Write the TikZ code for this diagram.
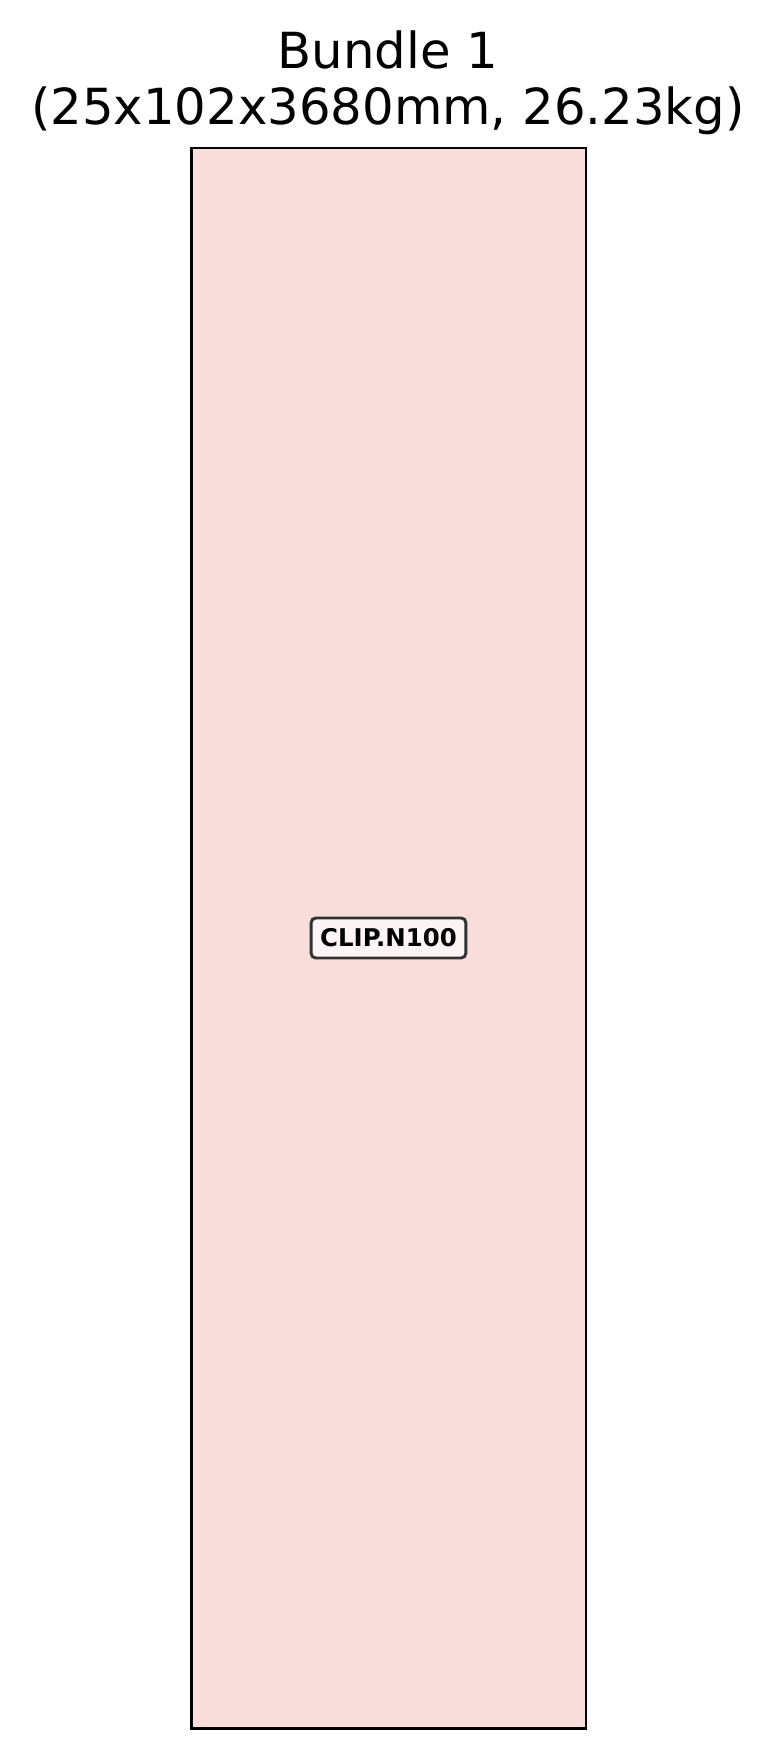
\documentclass[tikz,border=0pt]{standalone}
\usepackage{fontspec}
\setmainfont{DejaVu Sans}
\definecolor{barfill}{RGB}{248,221,219}
\definecolor{tagfill}{RGB}{253,245,245}
\definecolor{tagedge}{RGB}{50,48,48}
\tikzset{
  titletext/.style={anchor=base, font=\fontsize{37.3}{40}\selectfont, inner sep=0pt},
  barbox/.style={draw=black, fill=barfill, line width=2.2pt},
  tagbox/.style={draw=tagedge, fill=tagfill, line width=2.2pt, rounded corners=3.5pt,
    minimum width=116pt, minimum height=30pt, inner sep=0pt,
    font=\fontsize{18.3}{20}\selectfont\bfseries}
}
\begin{document}
\begin{tikzpicture}[x=0.75pt,y=-0.75pt]
\useasboundingbox (0,0) rectangle (776,1759);
\node[titletext] (t1) at (388,69) {Bundle 1};
\node[titletext] (t2) at (388,124) {(25x102x3680mm, 26.23kg)};
\draw[barbox] (191.5,148) rectangle (586,1728.5);
\node[tagbox] (tag) at (388.5,938) {CLIP.N100};
\end{tikzpicture}
\end{document}
